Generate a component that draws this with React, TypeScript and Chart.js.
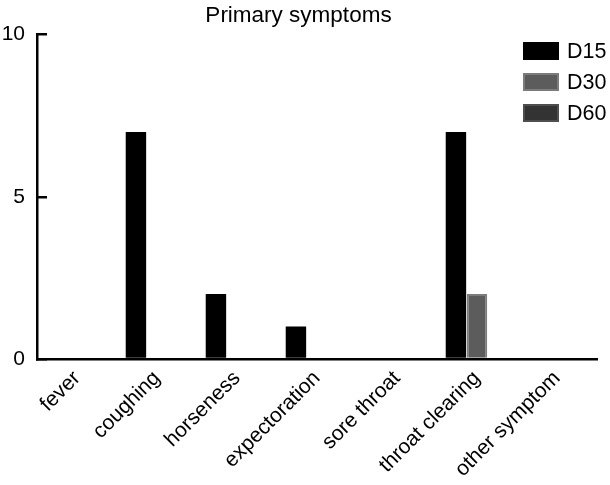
import React, { useEffect, useRef } from "react";
import { Chart, registerables } from "chart.js";

Chart.register(...registerables);

const categories = [
  "fever",
  "coughing",
  "horseness",
  "expectoration",
  "sore throat",
  "throat clearing",
  "other symptom",
];
const seriesNames = ["D15", "D30", "D60"];
const d15 = [0, 7, 2, 1, 0, 7, 0];
const d30 = [0, 0, 0, 0, 0, 2, 0];
const d60 = [0, 0, 0, 0, 0, 0, 0];
const yTicks = [0, 5, 10];
const titleText = "Primary symptoms";

const fills = ["#000000", "#5c5c5c", "#333333"];
const borders = ["#000000", "#7c7c7c", "#4e4e4e"];
const FONT = "'Liberation Sans', Arial, sans-serif";

const legendPlugin = {
  id: "customLegend",
  afterDraw(chart: any) {
    const ctx = chart.ctx;
    const x0 = chart.width - 87;
    const y0 = 42;
    const rowH = 31;
    ctx.save();
    chart.data.datasets.forEach((ds: any, i: number) => {
      const y = y0 + i * rowH;
      ctx.fillStyle = ds.borderColor;
      ctx.fillRect(x0, y, 36, 18);
      ctx.fillStyle = ds.backgroundColor;
      ctx.fillRect(x0 + 2, y + 2, 32, 14);
      ctx.fillStyle = "#000";
      ctx.font = `21.5px ${FONT}`;
      ctx.textBaseline = "middle";
      ctx.textAlign = "left";
      ctx.fillText(ds.label, x0 + 44, y + 10);
    });
    ctx.restore();
  },
};

export default function App() {
  const ref = useRef<HTMLCanvasElement | null>(null);

  useEffect(() => {
    document.body.style.margin = "0";
    const canvas = ref.current;
    if (!canvas) return;
    const values = [d15, d30, d60];
    const chart = new Chart(canvas, {
      type: "bar",
      data: {
        labels: categories,
        datasets: seriesNames.map((name, i) => ({
          label: name,
          data: values[i],
          backgroundColor: fills[i],
          borderColor: borders[i],
          borderWidth: i === 0 ? 0 : 2,
          categoryPercentage: 0.79,
          barPercentage: 0.97,
        })),
      },
      options: {
        responsive: true,
        maintainAspectRatio: false,
        animation: false,
        layout: { padding: { left: 0, right: 13, top: 0, bottom: 0 } },
        plugins: {
          legend: { display: false },
          tooltip: { enabled: false },
          title: {
            display: true,
            text: titleText,
            color: "#000",
            font: { family: FONT, size: 22.5, weight: "normal", lineHeight: 1.0 },
            padding: { top: 1, bottom: 7.5 },
          },
        },
        scales: {
          x: {
            grid: { display: false, drawTicks: false },
            border: { display: true, color: "#000", width: 2.5 },
            ticks: {
              color: "#000",
              font: { family: FONT, size: 21 },
              maxRotation: 45,
              minRotation: 45,
              padding: 7,
              autoSkip: false,
            },
            afterFit(scale: any) {
              scale.height = 126;
            },
          },
          y: {
            min: 0,
            max: 10,
            afterBuildTicks(scale: any) {
              scale.ticks = yTicks.map((v) => ({ value: v }));
            },
            grid: {
              drawOnChartArea: false,
              drawTicks: true,
              tickLength: -10,
              color: "#000",
              lineWidth: 2.5,
            },
            border: { display: true, color: "#000", width: 2.5 },
            ticks: {
              color: "#000",
              font: { family: FONT, size: 21 },
              padding: 22,
            },
            afterFit(scale: any) {
              scale.width = 37;
            },
          },
        },
      },
      plugins: [legendPlugin],
    } as any);
    return () => chart.destroy();
  }, []);

  return (
    <div style={{ position: "relative", width: 610, height: 485 }}>
      <canvas ref={ref} />
    </div>
  );
}
